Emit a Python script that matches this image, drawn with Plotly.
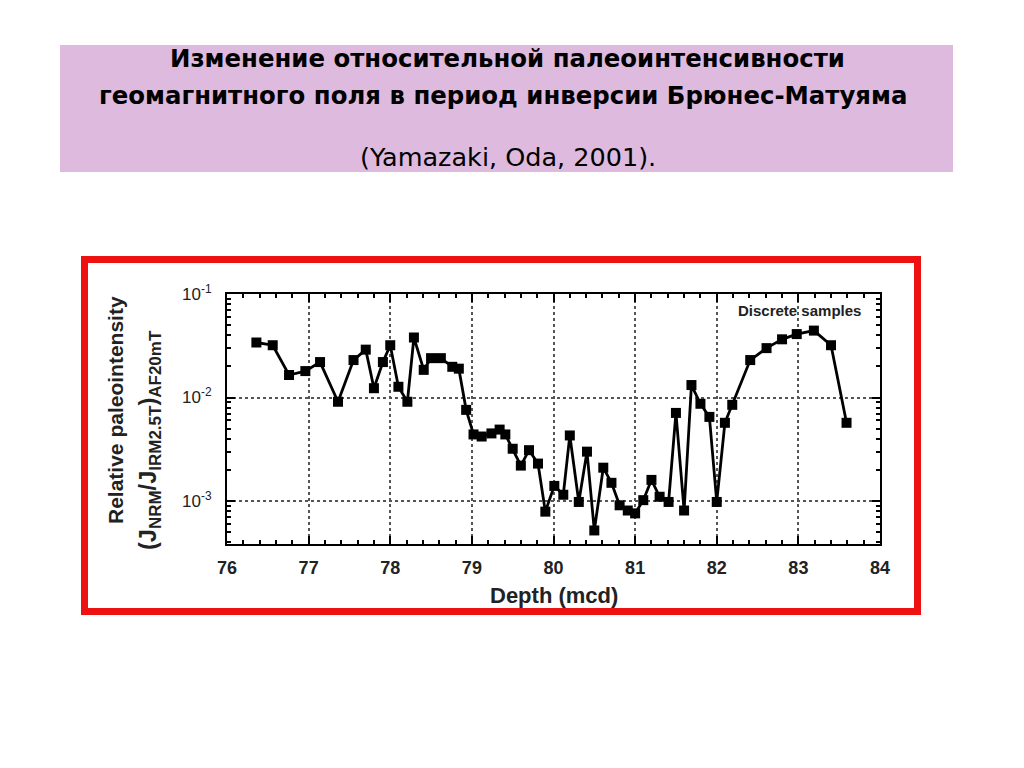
import plotly.graph_objects as go

depth = [76.36, 76.56, 76.76, 76.96, 77.14, 77.36, 77.55, 77.70, 77.80, 77.91,
         78.00, 78.10, 78.21, 78.29, 78.41, 78.50, 78.62, 78.76, 78.84, 78.93,
         79.02, 79.12, 79.24, 79.34, 79.41, 79.50, 79.60, 79.70, 79.81, 79.90,
         80.01, 80.12, 80.20, 80.31, 80.41, 80.50, 80.61, 80.71, 80.81, 80.91,
         81.00, 81.10, 81.20, 81.30, 81.41, 81.50, 81.60, 81.69, 81.80, 81.91,
         82.00, 82.10, 82.19, 82.41, 82.61, 82.80, 82.98, 83.19, 83.40, 83.59]
intensity = [0.034, 0.032, 0.0165, 0.018, 0.022, 0.0091, 0.023, 0.029, 0.0123, 0.022,
             0.032, 0.0127, 0.0091, 0.038, 0.0185, 0.024, 0.024, 0.0198, 0.019, 0.0076,
             0.0044, 0.0042, 0.0045, 0.0049, 0.0044, 0.0032, 0.0022, 0.0031, 0.0023, 0.00079,
             0.0014, 0.00115, 0.0043, 0.00098, 0.0030, 0.00052, 0.0021, 0.0015, 0.00091, 0.00081,
             0.00076, 0.00102, 0.0016, 0.0011, 0.00098, 0.0071, 0.00081, 0.0132, 0.0087, 0.0065,
             0.00098, 0.0057, 0.0085, 0.023, 0.030, 0.0365, 0.041, 0.0443, 0.032, 0.0057]

x_ticks = [76, 77, 78, 79, 80, 81, 82, 83, 84]
y_ticks = [0.001, 0.01, 0.1]
y_ticktext = ["10<sup>-3</sup>", "10<sup>-2</sup>", "10<sup>-1</sup>"]

title_line1 = "Изменение относительной палеоинтенсивности"
title_line2 = "геомагнитного поля в период инверсии Брюнес-Матуяма"
subtitle = "(Yamazaki, Oda, 2001)."

W, H = 1024, 768
L, R, T, B = 227, 880, 294, 544  # plot area in pixels


def px(x):
    return (x - L) / (R - L)


def py(y):
    return (B - y) / (B - T)


FONT = "Liberation Sans, Arial, sans-serif"
TFONT = "DejaVu Sans, sans-serif"

fig = go.Figure()
fig.add_trace(go.Scatter(
    x=depth, y=intensity, mode="lines+markers",
    line=dict(color="black", width=2.8),
    marker=dict(symbol="square", size=10, color="black"),
    showlegend=False,
))

axis_common = dict(
    showline=True, linecolor="black", linewidth=2, mirror="allticks",
    ticks="inside", ticklen=8, tickwidth=2, tickcolor="black",
    showgrid=True, gridcolor="#555", gridwidth=1.5, griddash="3px,3px",
    zeroline=False,
)

fig.update_xaxes(
    range=[76, 84], tickvals=x_ticks, ticklabelstandoff=6,
    tickfont=dict(family=FONT, size=18, color="#222", weight="bold"),
    minor=dict(dtick=0.2, ticks="inside", ticklen=4, tickwidth=1.5, tickcolor="black", showgrid=False),
    **axis_common,
)
fig.update_yaxes(
    type="log", range=[-3.415, -1], tickvals=y_ticks, ticktext=y_ticktext, ticklabelstandoff=10,
    tickfont=dict(family=FONT, size=17, color="#222"),
    minor=dict(dtick="D1", ticks="inside", ticklen=4, tickwidth=1.5, tickcolor="black", showgrid=False),
    **axis_common,
)

shapes = [
    dict(type="rect", xref="paper", yref="paper",
         x0=px(60), x1=px(953), y0=py(172), y1=py(45),
         fillcolor="#DEBADF", line=dict(width=0), layer="below"),
    dict(type="rect", xref="paper", yref="paper",
         x0=px(84.5), x1=px(917.5), y0=py(611.5), y1=py(259.5),
         fillcolor="rgba(0,0,0,0)", line=dict(color="#EE1111", width=7)),
]


def ann(text, x, y, size, family=FONT, angle=0, color="black"):
    return dict(text=text, x=px(x), y=py(y), xref="paper", yref="paper",
                xanchor="center", yanchor="middle", textangle=angle,
                showarrow=False, font=dict(family=family, size=size, color=color))


SUB = '<sub><span style="font-size:17px">%s</span></sub>'

annotations = [
    ann("<b>" + title_line1 + "</b>", 507, 58, 24.4, TFONT),
    ann("<b>" + title_line2 + "</b>", 503, 95, 24.4, TFONT),
    ann(subtitle, 508, 157, 25.5, TFONT),
    ann("<b>Relative paleointensity</b>", 115, 410, 21, angle=-90, color="#222"),
    ann("<b>(J" + SUB % "NRM" + "/J" + SUB % "IRM2.5T" + ")" + SUB % "AF20mT" + "</b>",
        150, 440, 23.5, angle=-90, color="#222"),
    ann("<b>Depth (mcd)</b>", 554, 595, 22, color="#222"),
    ann("<b>Discrete samples</b>", 799, 310, 15, color="#222"),
]

fig.update_layout(
    width=W, height=H,
    margin=dict(l=L, r=W - R, t=T, b=H - B),
    paper_bgcolor="white", plot_bgcolor="white",
    shapes=shapes, annotations=annotations,
)

fig.write_html("out.html")
